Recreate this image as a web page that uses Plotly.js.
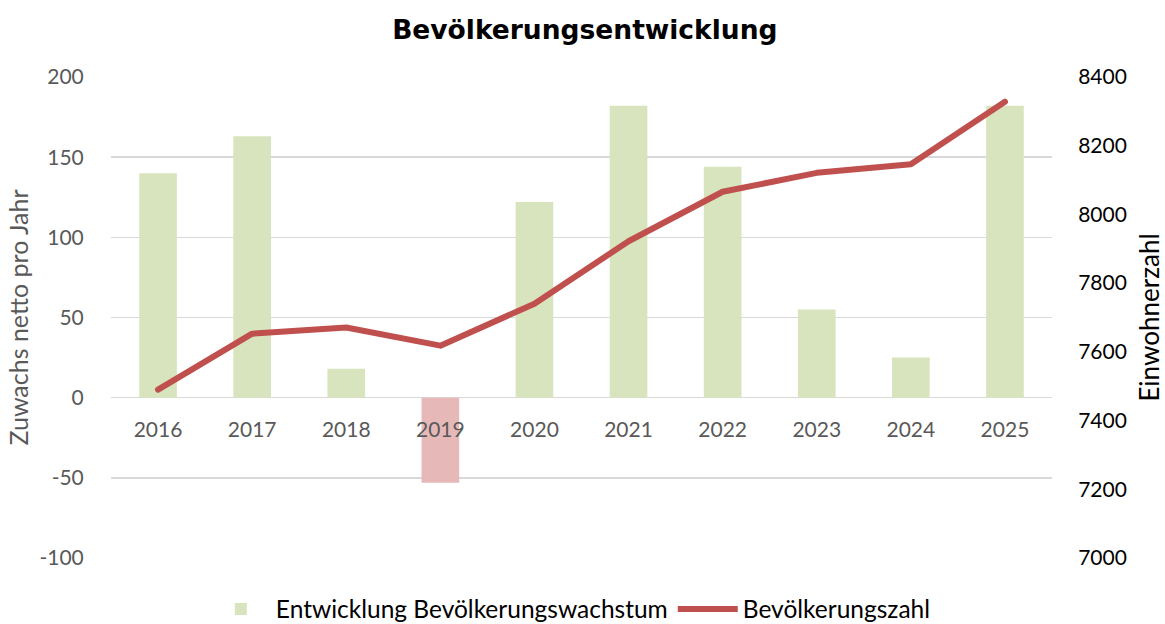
<!DOCTYPE html>
<html>
<head>
<meta charset="utf-8">
<script src="https://cdn.plot.ly/plotly-3.0.1.min.js"></script>
<style>
html,body{margin:0;padding:0;background:#fff;}
#chart{width:1165px;height:624px;}
#chart .scatterlayer path.js-line{stroke-linecap:round !important;stroke-linejoin:round !important;}
</style>
</head>
<body>
<div id="chart"></div>
<script>
var years = ['2016','2017','2018','2019','2020','2021','2022','2023','2024','2025'];
var growth = [140, 163, 18, -53, 122, 182, 144, 55, 25, 182];
var population = [7490, 7653, 7671, 7618, 7740, 7922, 8066, 8121, 8146, 8328];
var leftTicks = [-100, -50, 0, 50, 100, 150, 200];
var rightTicks = [7000, 7200, 7400, 7600, 7800, 8000, 8200, 8400];

var FONT = 'Lato, "Open Sans", sans-serif';
var barColors = growth.map(function(v){ return v < 0 ? '#e6b9b8' : '#d7e4bd'; });

var traces = [
  {
    type: 'bar',
    name: 'Entwicklung Bevölkerungswachstum',
    x: years,
    y: growth,
    marker: {color: barColors},
    xaxis: 'x',
    yaxis: 'y'
  },
  {
    type: 'scatter',
    mode: 'lines',
    name: 'Bevölkerungszahl',
    x: years,
    y: population,
    line: {color: '#c0504d', width: 6},
    xaxis: 'x',
    yaxis: 'y2'
  }
];

var layout = {
  width: 1165,
  height: 624,
  paper_bgcolor: '#ffffff',
  plot_bgcolor: '#ffffff',
  margin: {l: 111, r: 113, t: 77, b: 66},
  font: {family: FONT, size: 21, color: '#595959'},
  title: {
    text: '<b>Bevölkerungsentwicklung</b>',
    font: {family: '"DejaVu Sans", Verdana, sans-serif', size: 26.5, color: '#000000'},
    x: 0.502, xanchor: 'center', xref: 'container',
    y: 1 - 30/624, yanchor: 'middle', yref: 'container'
  },
  bargap: 0.6,
  showlegend: true,
  legend: {
    orientation: 'h',
    x: 0.49, xanchor: 'center', xref: 'container',
    y: 1 - 609/624, yanchor: 'middle', yref: 'container',
    font: {family: FONT, size: 24.5, color: '#000000'},
    traceorder: 'normal',
    itemwidth: 60
  },
  xaxis: {
    type: 'category',
    anchor: 'free',
    position: 1/3,
    showline: false,
    showgrid: false,
    zeroline: false,
    ticks: 'outside',
    ticklen: 13,
    tickcolor: 'rgba(0,0,0,0)',
    tickfont: {family: FONT, size: 21, color: '#595959'},
    fixedrange: true
  },
  yaxis: {
    range: [-100, 200],
    tickvals: leftTicks,
    ticktext: leftTicks.map(String),
    showgrid: true,
    gridcolor: '#d9d9d9',
    gridwidth: 1.5,
    zeroline: true,
    zerolinecolor: '#d9d9d9',
    zerolinewidth: 1.5,
    showline: false,
    ticks: 'outside',
    ticklen: 22,
    tickcolor: 'rgba(0,0,0,0)',
    tickfont: {family: FONT, size: 21, color: '#595959'},
    title: {text: 'Zuwachs netto pro Jahr', font: {family: FONT, size: 25, color: '#595959'}, standoff: 3},
    automargin: false,
    fixedrange: true
  },
  yaxis2: {
    range: [7000, 8400],
    tickvals: rightTicks,
    ticktext: rightTicks.map(String),
    overlaying: 'y',
    side: 'right',
    showgrid: false,
    zeroline: false,
    showline: false,
    ticks: 'outside',
    ticklen: 21,
    tickcolor: 'rgba(0,0,0,0)',
    tickfont: {family: FONT, size: 21, color: '#000000'},
    title: {text: 'Einwohnerzahl', font: {family: FONT, size: 26, color: '#000000'}, standoff: 14},
    automargin: false,
    fixedrange: true
  }
};

Plotly.newPlot('chart', traces, layout, {displayModeBar: false, staticPlot: true});
</script>
</body>
</html>
